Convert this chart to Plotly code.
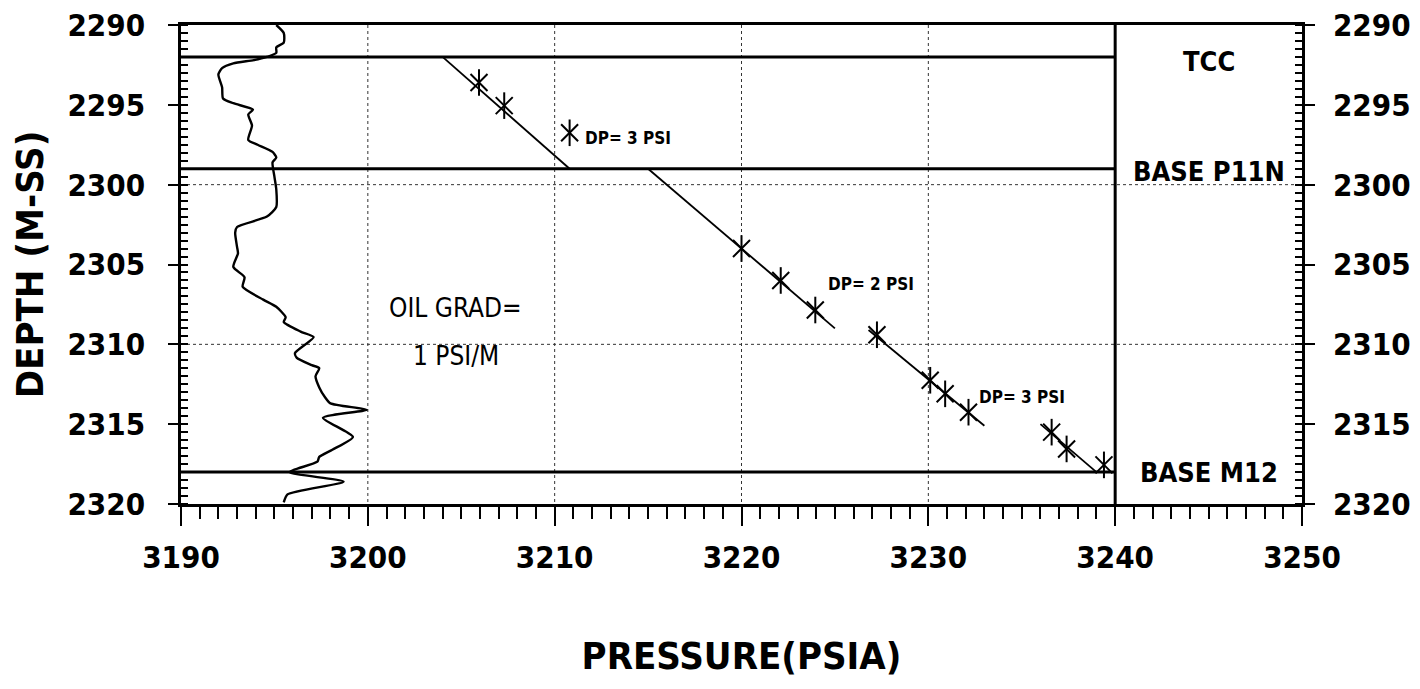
import plotly.graph_objects as go

# ---------------- data ----------------
# gamma-type log curve drawn in the left part (x in pressure units, y depth)
LOG_DEPTH = [2290.0, 2290.5, 2291.1, 2291.4, 2291.75, 2292.0, 2292.2, 2292.4, 2292.7, 2293.1,
             2293.9, 2294.6, 2294.9, 2295.3, 2295.6, 2296.3, 2297.2, 2297.5, 2297.95, 2298.3,
             2298.6, 2299.5, 2300.3, 2301.4, 2302.0, 2302.65, 2303.0, 2303.9, 2304.3, 2305.15,
             2305.8, 2306.4, 2307.2, 2307.65, 2308.3, 2308.6, 2309.2, 2309.55, 2310.55, 2310.85,
             2311.3, 2311.5, 2312.0, 2312.7, 2313.3, 2313.7, 2314.1, 2314.6, 2315.8, 2316.6,
             2317.05, 2317.35, 2318.0, 2318.6, 2319.4, 2319.9]
LOG_VALUE = [3195.1, 3195.5, 3195.5, 3195.1, 3195.1, 3194.6, 3193.9, 3192.8, 3192.2, 3192.0,
             3192.2, 3192.25, 3192.8, 3193.85, 3193.6, 3193.8, 3193.6, 3194.1, 3194.9, 3195.1,
             3194.9, 3195.0, 3195.1, 3195.1, 3194.6, 3193.0, 3192.9, 3193.0, 3193.05, 3192.8,
             3193.4, 3193.3, 3194.4, 3195.1, 3195.6, 3195.5, 3196.4, 3197.1, 3196.1, 3196.2,
             3197.0, 3197.4, 3197.2, 3197.4, 3197.7, 3198.0, 3199.95, 3197.6, 3199.2, 3198.1,
             3197.4, 3197.3, 3195.8, 3198.7, 3195.7, 3195.5]

# measured pressure points
PT_PRESSURE = [3205.95, 3207.3, 3210.8, 3220.0, 3222.1, 3223.95, 3227.25,
               3230.1, 3230.9, 3232.15, 3236.6, 3237.4, 3239.4]
PT_DEPTH = [2293.6, 2295.05, 2296.75, 2304.0, 2306.0, 2307.85, 2309.4,
            2312.25, 2313.1, 2314.25, 2315.5, 2316.55, 2317.55]

# gradient line segments (start/end)
SEG_P = [[3204.0, 3210.8], [3215.0, 3225.0], [3226.8, 3233.0], [3236.0, 3239.0]]
SEG_D = [[2292.0, 2299.0], [2299.0, 2309.0], [2309.1, 2315.1], [2315.0, 2318.0]]

# formation tops
TOP_DEPTHS = [2292.0, 2299.0, 2318.0]
TOP_NAMES = ["TCC", "BASE P11N", "BASE M12"]
TOP_LABEL_DEPTH = [2292.3, 2299.2, 2318.0]

# DP annotations
DP_TEXT = ["DP= 3 PSI", "DP= 2 PSI", "DP= 3 PSI"]
DP_P = [3211.5, 3224.5, 3232.6]
DP_D = [2297.1, 2306.2, 2313.3]

GRID_P = [3200, 3210, 3220, 3230]
GRID_D = [2300, 2310]
BOUNDARY_P = 3240
X_RANGE = [3190, 3250]
Y_RANGE = [2320, 2290]

FONT = "DejaVu Sans Condensed, Liberation Sans Narrow, Arial Narrow, sans-serif"

fig = go.Figure()

# log curve
fig.add_trace(go.Scatter(x=LOG_VALUE, y=LOG_DEPTH, mode="lines",
                         line=dict(color="black", width=2.4, shape="spline", smoothing=0.6),
                         hoverinfo="skip", showlegend=False))

# gradient lines
sx, sy = [], []
for p, d in zip(SEG_P, SEG_D):
    sx += p + [None]
    sy += d + [None]
fig.add_trace(go.Scatter(x=sx, y=sy, mode="lines", line=dict(color="black", width=1.8),
                         showlegend=False, hoverinfo="skip"))

# asterisk markers (6 arms: X + vertical)
fig.add_trace(go.Scatter(x=PT_PRESSURE, y=PT_DEPTH, mode="markers",
                         marker=dict(symbol="x-thin-open", size=17, color="black",
                                     line=dict(color="black", width=2)),
                         showlegend=False))
fig.add_trace(go.Scatter(x=PT_PRESSURE, y=PT_DEPTH, mode="markers",
                         marker=dict(symbol="line-ns-open", size=19, color="black",
                                     line=dict(color="black", width=2)),
                         showlegend=False))

# dummy on right axis
fig.add_trace(go.Scatter(x=[None], y=[None], yaxis="y2", showlegend=False))

shapes = []
for g in GRID_P:
    shapes.append(dict(type="line", xref="x", yref="y", x0=g, x1=g, y0=Y_RANGE[1], y1=Y_RANGE[0],
                       line=dict(color="#333", width=1, dash="3px,3px"), layer="below"))
for g in GRID_D:
    shapes.append(dict(type="line", xref="x", yref="y", x0=X_RANGE[0], x1=X_RANGE[1], y0=g, y1=g,
                       line=dict(color="#333", width=1, dash="3px,3px"), layer="below"))
for d in TOP_DEPTHS:
    shapes.append(dict(type="line", xref="x", yref="y", x0=X_RANGE[0], x1=BOUNDARY_P, y0=d, y1=d,
                       line=dict(color="black", width=3)))
shapes.append(dict(type="line", xref="x", yref="y", x0=BOUNDARY_P, x1=BOUNDARY_P,
                   y0=Y_RANGE[1], y1=Y_RANGE[0], line=dict(color="black", width=3)))

annotations = []
for name, d in zip(TOP_NAMES, TOP_LABEL_DEPTH):
    annotations.append(dict(x=(BOUNDARY_P + X_RANGE[1]) / 2, y=d, xref="x", yref="y", text=name,
                            showarrow=False, font=dict(family=FONT, size=27, color="black", weight="bold")))
for t, p, d in zip(DP_TEXT, DP_P, DP_D):
    annotations.append(dict(x=p, y=d, xref="x", yref="y", text=t, xanchor="left", showarrow=False,
                            font=dict(family=FONT, size=17, color="black", weight="bold")))
annotations.append(dict(x=3204.7, y=2307.7, xref="x", yref="y", text="OIL GRAD=", showarrow=False,
                        font=dict(family=FONT, size=26, color="black")))
annotations.append(dict(x=3204.7, y=2310.7, xref="x", yref="y", text="1 PSI/M", showarrow=False,
                        font=dict(family=FONT, size=26, color="black")))

tickfont = dict(family=FONT, size=31, color="black", weight="bold")

fig.update_layout(
    width=1420, height=689,
    margin=dict(l=173, r=126, t=17, b=193),
    paper_bgcolor="white", plot_bgcolor="white",
    shapes=shapes, annotations=annotations,
    xaxis=dict(range=X_RANGE, tickmode="linear", tick0=3190, dtick=10, automargin=False,
               showgrid=False, zeroline=False,
               showline=True, linecolor="black", linewidth=2.5, mirror=True,
               ticks="outside", ticklen=19, tickwidth=1.5, tickcolor="black",
               ticklabelstandoff=5, ticklabeloverflow="allow",
               minor=dict(dtick=1, ticks="outside", ticklen=12, tickwidth=1.5, tickcolor="black", showgrid=False),
               tickfont=tickfont,
               title=dict(text="PRESSURE(PSIA)", standoff=69,
                          font=dict(family=FONT, size=38, color="black", weight="bold"))),
    yaxis=dict(range=Y_RANGE, tickmode="linear", tick0=2290, dtick=5, automargin=False,
               showgrid=False, zeroline=False,
               showline=True, linecolor="black", linewidth=2.5,
               ticks="outside", ticklen=10, tickwidth=1.5, tickcolor="black",
               ticklabelstandoff=17, ticklabeloverflow="allow",
               minor=dict(dtick=0.5, ticks="inside", ticklen=7, tickwidth=1.5, tickcolor="black", showgrid=False),
               tickfont=tickfont,
               title=dict(text="DEPTH (M-SS)", standoff=16,
                          font=dict(family=FONT, size=38, color="black", weight="bold"))),
    yaxis2=dict(range=Y_RANGE, overlaying="y", side="right", tickmode="linear", tick0=2290, dtick=5,
                automargin=False,
                showgrid=False, zeroline=False,
                showline=True, linecolor="black", linewidth=2.5,
                ticks="outside", ticklen=10, tickwidth=1.5, tickcolor="black",
                ticklabelstandoff=12, ticklabeloverflow="allow",
                minor=dict(dtick=0.5, ticks="inside", ticklen=7, tickwidth=1.5, tickcolor="black", showgrid=False),
                tickfont=tickfont),
)

fig.write_html("out.html")
